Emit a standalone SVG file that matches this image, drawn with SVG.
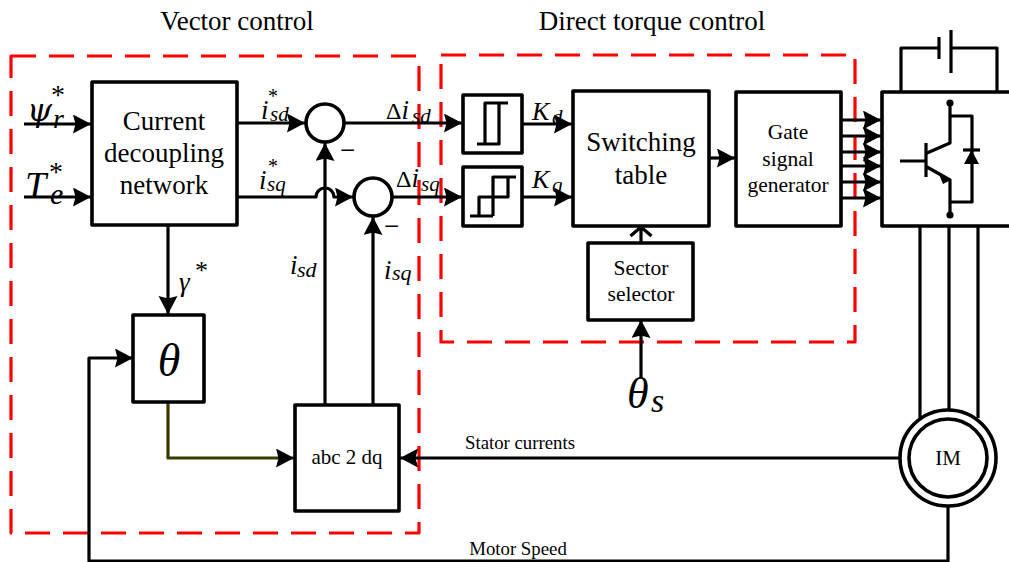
<svg xmlns="http://www.w3.org/2000/svg" width="1009" height="562" viewBox="0 0 1009 562">
<style>
text{font-family:"Liberation Serif","Times New Roman",serif;fill:#000}
.b{fill:#fff;stroke:#000;stroke-width:3.6;stroke-linejoin:round}
.w{fill:none;stroke:#000;stroke-width:3.2;stroke-linejoin:round}
.r{fill:none;stroke:#f00;stroke-width:3.2;stroke-dasharray:25 13;stroke-linejoin:round}
.i{font-style:italic}
.m{text-anchor:middle}
</style>
<defs>
<marker id="a" markerUnits="userSpaceOnUse" markerWidth="19" markerHeight="20" refX="18" refY="9.5" orient="auto"><path d="M0 0L18 9.5L0 19L2.5 9.5Z" fill="#000"/></marker>
</defs>
<rect width="1009" height="562" fill="#fff"/>
<g id="regions">
<path class="r" d="M11 56H419V533H11Z"/>
<path class="r" d="M441 55H855V342H441Z"/>
</g>
<g id="connectors">
<path class="w" d="M24 124H91" marker-end="url(#a)"/>
<path class="w" d="M24 197H91" marker-end="url(#a)"/>
<path class="w" d="M237 123H305" marker-end="url(#a)"/>
<path class="w" d="M237 197H316A9 9 0 0 1 334 197H353" marker-end="url(#a)"/>
<path class="w" d="M344 123H462" marker-end="url(#a)"/>
<path class="w" d="M392 197H462" marker-end="url(#a)"/>
<path class="w" d="M522 124H572" marker-end="url(#a)"/>
<path class="w" d="M522 197H572" marker-end="url(#a)"/>
<path class="w" d="M709 158H735" marker-end="url(#a)"/>
<path class="w" d="M641 243V227M630.500 236L641 227L651.500 236"/>
<path class="w" d="M641 378V320" marker-end="url(#a)"/>
<path class="w" d="M168 225V314" marker-end="url(#a)"/>
<path class="w" d="M168 402V458H294" marker-end="url(#a)" style="stroke:#3a3a00"/>
<path class="w" d="M325 405V143" marker-end="url(#a)"/>
<path class="w" d="M373 405V217" marker-end="url(#a)"/>
<path class="w" d="M900 458H400" marker-end="url(#a)"/>
<path class="w" d="M948 506V561H89V358H133" marker-end="url(#a)"/>
<path class="w" d="M841 120H881" marker-end="url(#a)"/>
<path class="w" d="M841 136H881" marker-end="url(#a)"/>
<path class="w" d="M841 152H881" marker-end="url(#a)"/>
<path class="w" d="M841 166H881" marker-end="url(#a)"/>
<path class="w" d="M841 182H881" marker-end="url(#a)"/>
<path class="w" d="M841 198H881" marker-end="url(#a)"/>
<path class="w" d="M920 226V418M949 226V410M978 226V418"/>
<path class="w" d="M901 92V48H939M939 37V59M951 30V73M951 48H997V92"/>
</g>
<g id="current-decoupling"><rect class="b" x="92" y="82" width="145" height="143"/>
<text class="m" x="164" y="130" font-size="27">Current</text><text class="m" x="164" y="162" font-size="27">decoupling</text><text class="m" x="164" y="194" font-size="27">network</text></g>
<g id="sum1"><circle class="b" cx="325" cy="123" r="19"/></g>
<g id="sum2"><circle class="b" cx="373" cy="197" r="19"/></g>
<g id="hyst1"><rect class="b" x="463" y="95" width="59" height="58"/><path class="w" d="M477 144H499V103M485 144V103H508"/></g>
<g id="hyst2"><rect class="b" x="463" y="167" width="59" height="59"/><path class="w" d="M470 216H493M479 216V197H508V177M493 216V177H516"/></g>
<g id="switching-table"><rect class="b" x="573" y="91" width="136" height="135"/>
<text class="m" x="641" y="151" font-size="27">Switching</text><text class="m" x="641" y="184" font-size="27">table</text></g>
<g id="gate"><rect class="b" x="736" y="92" width="105" height="134"/>
<text class="m" x="788" y="139" font-size="21.5">Gate</text><text class="m" x="788" y="166" font-size="21.5">signal</text><text class="m" x="788" y="192" font-size="21.5">generator</text></g>
<g id="sector"><rect class="b" x="588" y="243" width="105" height="77"/>
<text class="m" x="641" y="275" font-size="21.5">Sector</text><text class="m" x="641" y="301" font-size="21.5">selector</text></g>
<g id="theta"><rect class="b" x="133" y="315" width="71" height="87"/><text class="i m" x="169" y="376" font-size="46">θ</text></g>
<g id="abc2dq"><rect class="b" x="295" y="405" width="104" height="106"/><text class="m" x="347" y="464" font-size="21">abc 2 dq</text></g>
<g id="inverter"><path class="b" d="M1010 92H882V226H1010"/>
<path class="w" d="M950 103V143L927 153M900 161H926M926 143V177M927 167L950 180V215M950 116H972V202H950"/>
<path d="M938 172L951 180L943 184Z" fill="#000"/>
<circle cx="950" cy="103" r="3.6"/><circle cx="950" cy="215" r="3.6"/>
<path d="M964 164H979L971.500 150Z" fill="#000"/><path class="w" d="M963 150H980"/></g>
<g id="motor"><circle class="b" cx="948" cy="458" r="48"/><circle class="b" cx="948" cy="458" r="39"/><text class="m" x="948" y="465" font-size="21">IM</text></g>
<g id="labels">
<text class="m" x="237" y="30" font-size="27">Vector control</text>
<text class="m" x="652" y="30" font-size="27">Direct torque control</text>
<text x="520" y="449" class="m" font-size="18.800">Stator currents</text>
<text x="518" y="555" class="m" font-size="18.800">Motor Speed</text>
<text class="i" x="27" y="121" font-size="32" style="font-family:'DejaVu Serif',serif">ψ</text><text class="i" x="53" y="128" font-size="28">r</text><text x="51" y="104" font-size="28">*</text>
<text class="i" x="25" y="198" font-size="38">T</text><text class="i" x="50" y="204" font-size="30">e</text><text x="49" y="181" font-size="28">*</text>
<text class="i" x="261" y="119" font-size="27">i</text><text class="i" x="270" y="121" font-size="21">sd</text><text x="268" y="103" font-size="20">*</text>
<text class="i" x="259" y="189" font-size="27">i</text><text class="i" x="267" y="191" font-size="21">sq</text><text x="268" y="173" font-size="20">*</text>
<text class="i" x="179" y="291" font-size="27">γ</text><text x="195" y="279" font-size="26">*</text>
<text class="i" x="290" y="274" font-size="27">i</text><text class="i" x="297" y="277" font-size="22">sd</text>
<text class="i" x="384" y="279" font-size="27">i</text><text class="i" x="392" y="280" font-size="22">sq</text>
<text x="386" y="119" font-size="24">Δ<tspan class="i" font-size="27">i</tspan></text><text class="i" x="412" y="123" font-size="21">sd</text>
<text x="396" y="187" font-size="24">Δ<tspan class="i" font-size="27">i</tspan></text><text class="i" x="421" y="191" font-size="21">sq</text>
<text class="i" x="532" y="120" font-size="26">K</text><text class="i" x="552" y="124" font-size="21">d</text>
<text class="i" x="532" y="188" font-size="26">K</text><text class="i" x="552" y="192" font-size="21">q</text>
<text class="i" x="627" y="408" font-size="44">θ</text><text class="i" x="651" y="412" font-size="34">s</text>
<text x="340" y="159" font-size="27">−</text><text x="384" y="235" font-size="27">−</text>
</g>
</svg>
